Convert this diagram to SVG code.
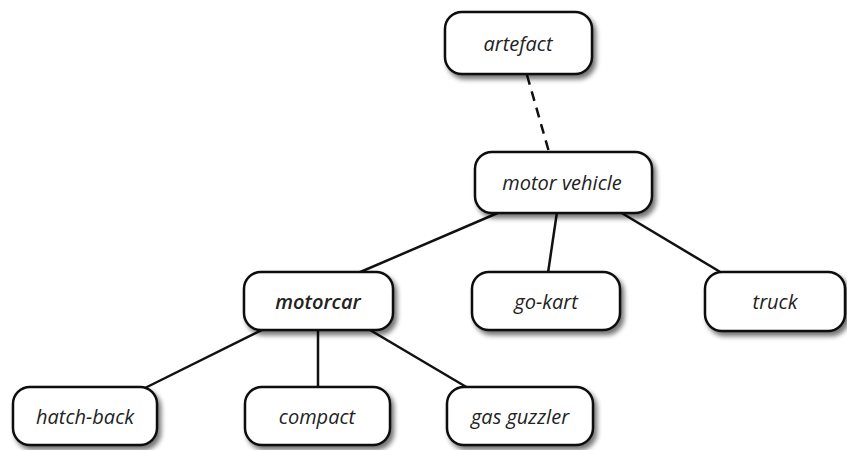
<svg xmlns="http://www.w3.org/2000/svg" width="847" height="450" viewBox="0 0 847 450">
<defs>
<filter id="sh" x="-20%" y="-20%" width="150%" height="160%">
<feGaussianBlur in="SourceAlpha" stdDeviation="2.5"/>
<feOffset dx="3" dy="4" result="b"/>
<feComponentTransfer><feFuncA type="linear" slope="0.55"/></feComponentTransfer>
<feMerge><feMergeNode/><feMergeNode in="SourceGraphic"/></feMerge>
</filter>
</defs>
<style>
.box{fill:#fff;stroke:#111;stroke-width:2.5;filter:url(#sh)}
.lbl{font-family:"Open Sans","Noto Sans",sans-serif;font-style:italic;font-size:20px;fill:#222;text-anchor:middle;dominant-baseline:central}
.b{font-weight:600}
.e{stroke:#111;stroke-width:2.5;fill:none}
.d{stroke-dasharray:10,7}
</style>
<rect width="847" height="450" fill="#fff"/>
<g id="connectors">
<line class="e d" x1="527" y1="75" x2="549" y2="152"/>
<line class="e" x1="500" y1="212" x2="358" y2="273"/>
<line class="e" x1="557" y1="212" x2="548" y2="273"/>
<line class="e" x1="620" y1="212" x2="722" y2="273"/>
<line class="e" x1="262" y1="330" x2="145" y2="388"/>
<line class="e" x1="318" y1="330" x2="318" y2="388"/>
<line class="e" x1="370" y1="330" x2="468" y2="388"/>
</g>
<g id="artefact"><rect class="box" x="445" y="12" width="147" height="62" rx="17"/><text class="lbl" x="518" y="43">artefact</text></g>
<g id="motor-vehicle"><rect class="box" x="475" y="152" width="177" height="61" rx="17"/><text class="lbl" x="562" y="182">motor vehicle</text></g>
<g id="motorcar"><rect class="box" x="244" y="272" width="149" height="58" rx="17"/><text class="lbl b" x="318" y="301">motorcar</text></g>
<g id="go-kart"><rect class="box" x="472" y="272" width="148" height="58" rx="17"/><text class="lbl" x="546" y="301">go-kart</text></g>
<g id="truck"><rect class="box" x="705" y="272" width="140" height="59" rx="17"/><text class="lbl" x="775" y="301">truck</text></g>
<g id="hatch-back"><rect class="box" x="13" y="387" width="144" height="58" rx="17"/><text class="lbl" x="85" y="416">hatch-back</text></g>
<g id="compact"><rect class="box" x="245" y="387" width="145" height="58" rx="17"/><text class="lbl" x="317" y="416">compact</text></g>
<g id="gas-guzzler"><rect class="box" x="447" y="387" width="146" height="58" rx="17"/><text class="lbl" x="520" y="416">gas guzzler</text></g>
</svg>
